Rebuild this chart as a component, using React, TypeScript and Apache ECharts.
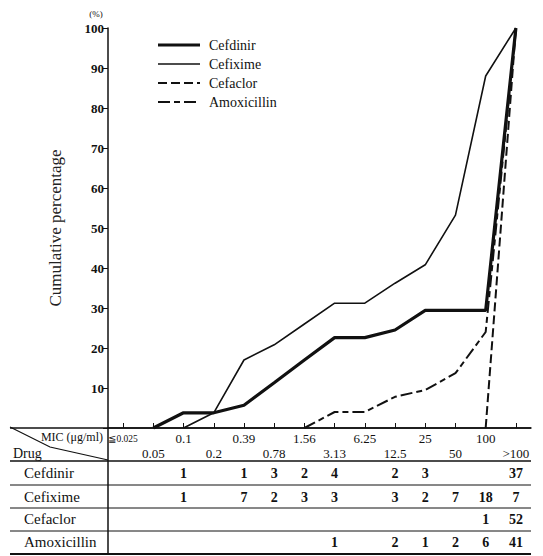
import React, { useEffect, useRef } from "react";
import * as echarts from "echarts";

// MIC steps (µg/ml)
const micLevels = ["≦0.025", "0.05", "0.1", "0.2", "0.39", "0.78", "1.56", "3.13", "6.25", "12.5", "25", "50", "100", ">100"];

// cumulative percentage per MIC step
const cefdinirPct = [null, 0, 3.8, 3.8, 5.7, 11.3, 17, 22.6, 22.6, 24.5, 29.4, 29.4, 29.4, 100];
const cefiximePct = [null, null, 0, 3.8, 17, 20.8, 26, 31.2, 31.2, 36.2, 40.8, 53.2, 88, 100];
const cefaclorPct = [null, null, null, null, null, null, null, null, null, null, null, null, 0, 100];
const amoxicillinPct = [null, null, null, null, null, null, 0, 4, 4, 7.8, 9.5, 13.7, 24, 100];

// number of strains per MIC step
const cefdinirCount = [null, null, 1, null, 1, 3, 2, 4, null, 2, 3, null, null, 37];
const cefiximeCount = [null, null, 1, null, 7, 2, 3, 3, null, 3, 2, 7, 18, 7];
const cefaclorCount = [null, null, null, null, null, null, null, null, null, null, null, null, 1, 52];
const amoxicillinCount = [null, null, null, null, null, null, null, 1, null, 2, 1, 2, 6, 41];

const yTicks = [0, 10, 20, 30, 40, 50, 60, 70, 80, 90, 100];

const drugs = ["Cefdinir", "Cefixime", "Cefaclor", "Amoxicillin"];
const drugWidths = [3.2, 1.6, 2, 2];
const drugDashes: any[] = ["solid", "solid", [9, 4], [12, 4, 6, 4]];

const SERIF = "'Liberation Serif', 'DejaVu Serif', serif";
const INK = "#111";

export default function App() {
  const ref = useRef<HTMLDivElement>(null);

  useEffect(() => {
    if (!ref.current) return;
    const chart = echarts.init(ref.current, null, { renderer: "svg" });

    const series = drugs.map((name, k) => ({
      name,
      type: "line",
      data: [cefdinirPct, cefiximePct, cefaclorPct, amoxicillinPct][k],
      symbol: "none",
      connectNulls: false,
      lineStyle: { color: INK, width: drugWidths[k], type: drugDashes[k] },
      itemStyle: { color: INK },
      z: 3,
    }));

    chart.setOption({
      animation: false,
      backgroundColor: "#fff",
      grid: { left: 108, top: 28, right: 12, bottom: 128, containLabel: false },
      xAxis: {
        type: "category",
        data: micLevels,
        boundaryGap: true,
        axisLine: { show: true, lineStyle: { color: INK, width: 1.5 } },
        axisTick: { show: true, inside: true, length: 5, alignWithLabel: true, lineStyle: { color: INK } },
        axisLabel: {
          interval: 0,
          hideOverlap: false,
          margin: 3,
          color: INK,
          fontFamily: SERIF,
          fontSize: 13,
          lineHeight: 15,
          formatter: (v: string, i: number) => {
            const t = i === 0 ? `{s|${v}}` : v;
            return i % 2 === 0 ? t : "\n" + t;
          },
          rich: { s: { fontSize: 9.5, fontFamily: SERIF, color: INK } },
        },
        splitLine: { show: false },
      },
      yAxis: {
        type: "value",
        min: yTicks[0],
        max: yTicks[yTicks.length - 1],
        interval: 10,
        name: "Cumulative percentage",
        nameLocation: "middle",
        nameGap: 44,
        nameTextStyle: { fontFamily: SERIF, fontSize: 17, color: "#222" },
        axisLine: { show: true, lineStyle: { color: INK, width: 1.5 } },
        axisTick: { show: true, inside: false, length: 5, lineStyle: { color: INK } },
        axisLabel: {
          margin: 4,
          color: INK,
          fontFamily: SERIF,
          fontSize: 13,
          fontWeight: "bold",
          formatter: (v: number) => (v === 0 ? "" : String(v)),
        },
        splitLine: { show: false },
      },
      series,
    });

    // table under the chart, columns follow the category axis
    const xs = micLevels.map((_, i) => chart.convertToPixel({ xAxisIndex: 0 }, i) as number);
    const axisX = 108;
    const leftX = 10;
    const rightX = 531;
    const rowCenters = [473, 497, 519, 542];
    const rowLines = [485, 508, 531];
    const counts = [cefdinirCount, cefiximeCount, cefaclorCount, amoxicillinCount];

    const graphics: any[] = [];

    // legend key
    drugs.forEach((d, k) => {
      const y = 45 + k * 19;
      graphics.push({
        type: "line",
        shape: { x1: 158, y1: y, x2: 200, y2: y },
        style: { stroke: INK, lineWidth: drugWidths[k], lineDash: drugDashes[k] === "solid" ? null : drugDashes[k] },
        silent: true,
      });
      graphics.push({
        type: "text",
        style: { x: 209, y, text: d, align: "left", verticalAlign: "middle", fontFamily: SERIF, fontSize: 14, fill: INK },
      });
    });

    const hline = (y: number, w: number) => ({
      type: "line",
      shape: { x1: leftX, y1: y, x2: rightX, y2: y },
      style: { stroke: INK, lineWidth: w },
      silent: true,
    });
    graphics.push(hline(428, 1.5));
    graphics.push(hline(461, 1.5));
    rowLines.forEach((y) => graphics.push(hline(y, 1)));
    graphics.push(hline(554, 2));
    graphics.push({
      type: "line",
      shape: { x1: axisX, y1: 428, x2: axisX, y2: 554 },
      style: { stroke: INK, lineWidth: 1.5 },
      silent: true,
    });
    graphics.push({
      type: "polyline",
      shape: { points: [[leftX, 427], [50, 447], [axisX, 460]] },
      style: { stroke: INK, lineWidth: 1.2, fill: null },
      silent: true,
    });
    graphics.push({
      type: "text",
      style: { x: 103, y: 437, text: "MIC (μg/ml)", align: "right", verticalAlign: "middle", fontFamily: SERIF, fontSize: 12, fill: INK },
    });
    graphics.push({
      type: "text",
      style: { x: 13, y: 453, text: "Drug", align: "left", verticalAlign: "middle", fontFamily: SERIF, fontSize: 14, fill: INK },
    });
    graphics.push({
      type: "text",
      style: { x: 96, y: 14, text: "(%)", align: "center", verticalAlign: "middle", fontFamily: SERIF, fontSize: 9, fill: INK },
    });
    drugs.forEach((d, r) => {
      graphics.push({
        type: "text",
        style: { x: 24, y: rowCenters[r], text: d, align: "left", verticalAlign: "middle", fontFamily: SERIF, fontSize: 15, fill: INK },
      });
      counts[r].forEach((c, i) => {
        if (c == null) return;
        graphics.push({
          type: "text",
          style: {
            x: xs[i],
            y: rowCenters[r],
            text: String(c),
            align: "center",
            verticalAlign: "middle",
            fontFamily: SERIF,
            fontSize: 14,
            fontWeight: "bold",
            fill: INK,
          },
        });
      });
    });

    chart.setOption({ graphic: graphics });

    return () => chart.dispose();
  }, []);

  return <div ref={ref} style={{ width: 543, height: 556, position: "absolute", left: 0, top: 0 }} />;
}
